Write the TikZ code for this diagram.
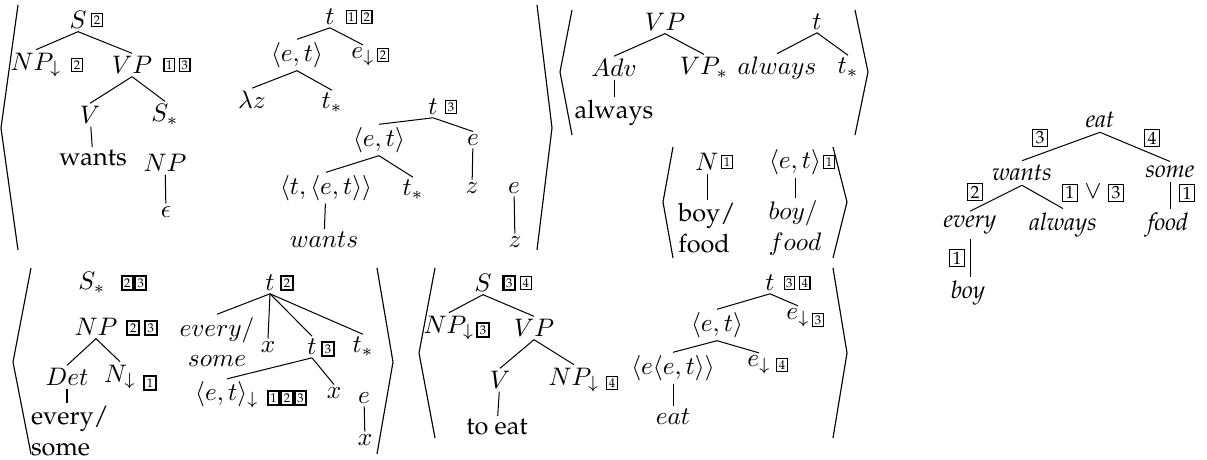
\documentclass[tikz,border=0pt]{standalone}
\usepackage[T1]{fontenc}
\renewcommand{\rmdefault}{ppl}
\usepackage{amsmath}
\usepackage{tikz}
\usetikzlibrary{positioning}
\setlength{\fboxsep}{0.6pt}
\newcommand{\tg}[1]{\fbox{\tiny #1}}
\newcommand{\tgb}[1]{{\setlength{\fboxrule}{0.8pt}\fbox{\tiny #1}}}
\newcommand{\tgd}[1]{{\setlength{\fboxsep}{0.7pt}\fbox{\scriptsize\makebox[4.4pt]{#1}}}}

\begin{document}
\begin{tikzpicture}[
  x=0.395pt, y=-0.395pt,
  every node/.style={inner sep=1pt},
  tags/.style={inner sep=0pt},
  lex/.style={align=left, inner sep=1pt},
  dtree/.style={font=\fontsize{9.6pt}{11pt}\selectfont\itshape, inner sep=1.5pt},
  brack/.style={line width=0.45pt}
]
\useasboundingbox (0,0) rectangle (1207,460);

% wants: syntax tree
\node (S1) at (78,20) {$S$};
\node[tags] (S1t) at (97,20) {\tg{2}};
\node (NP1) at (36,65) {$NP_{\downarrow}$};
\node[tags] (NP1t) at (77,65) {\tg{2}};
\node (VP1) at (132,65) {$VP$};
\node[tags] (VP1t) at (177,65) {\tg{1}\,\tg{3}};
\node (V1) at (90,115) {$V$};
\node (Ss1) at (165,115) {$S_*$};
\node (wants1) at (93,158) {wants};
\node (NP1b) at (165,163) {$NP$};
\node (eps1) at (166,212) {$\epsilon$};
\draw (S1.south) -- (NP1.north);
\draw (S1.south) -- (VP1.north);
\draw (VP1.south) -- (V1.north);
\draw (VP1.south) -- (Ss1.north);
\draw (V1) -- (wants1);
\draw (NP1b) -- (eps1);

% wants: semantic trees
\node (t1) at (330,17) {$t$};
\node[tags] (t1t) at (359,17) {\tg{1}\,\tg{2}};
\node (et1) at (297,55) {$\langle e,t\rangle$};
\node (e1) at (363,57) {$e_{\downarrow}$};
\node[tags] (e1t) at (383,55) {\tg{2}};
\node (lz) at (252,100) {$\lambda z$};
\node (ts1) at (332,103) {$t_*$};
\draw (t1.south) -- (et1.north);
\draw (t1.south) -- (e1.north);
\draw (et1.south) -- (lz.north);
\draw (et1.south) -- (ts1.north);

\node (t3) at (433,107) {$t$};
\node[tags] (t3t) at (451,107) {\tg{3}};
\node (et2) at (379,140) {$\langle e,t\rangle$};
\node (e2) at (473,140) {$e$};
\node (tet) at (326,188) {$\langle t,\langle e,t\rangle\rangle$};
\node (ts2) at (413,190) {$t_*$};
\node (z1) at (472,188) {$z$};
\node (wants2) at (324,240) {$wants$};
\node (e3) at (514,188) {$e$};
\node (z2) at (515,242) {$z$};
\draw (t3.south) -- (et2.north);
\draw (t3.south) -- (e2.north);
\draw (et2.south) -- (tet.north);
\draw (et2.south) -- (ts2.north);
\draw (e2) -- (z1);
\draw (tet) -- (wants2);
\draw (e3) -- (z2);

\draw[brack] (18,5) -- (1,128) -- (18,250);
\draw[brack] (537,5) -- (552,128) -- (537,250);

% always
\node (VP2) at (665,22) {$VP$};
\node (Adv) at (614,68) {$Adv$};
\node (VPs) at (704,68) {$VP_*$};
\node (always1) at (614,113) {always};
\node (t4) at (817,22) {$t$};
\node (always2) at (777,68) {$always$};
\node (ts3) at (848,68) {$t_*$};
\draw (VP2.south) -- (Adv.north);
\draw (VP2.south) -- (VPs.north);
\draw (Adv) -- (always1);
\draw (t4.south) -- (always2.north);
\draw (t4.south) -- (ts3.north);
\draw[brack] (572,10) -- (560,72) -- (572,135);
\draw[brack] (855,10) -- (868,72) -- (855,135);

% boy / food
\node (N3) at (707,162) {$N$};
\node[tags] (N3t) at (727,162) {\tg{1}};
\node[lex] (bf1) at (707,228) {boy/\\food};
\node (et3) at (795,162) {$\langle e,t\rangle$};
\node[tags] (et3t) at (829,162) {\tg{1}};
\node[lex] (bf2) at (795,228) {$boy/$\\$food$};
\draw (N3) -- (N3 |- bf1.north);
\draw (et3) -- (et3 |- bf2.north);
\draw[brack] (673,147) -- (663,202) -- (673,258);
\draw[brack] (833,147) -- (847,202) -- (833,258);

% every / some
\node (Ss4) at (92,283) {$S_*$};
\node[tags] (Ss4t) at (134,283) {\tgb{2}\tgb{3}};
\node (NP4) at (96,327) {$NP$};
\node[tags] (NP4t) at (142,328) {\tgb{2}\,\tgb{3}};
\node (Det) at (67,377) {$Det$};
\node (N4) at (120,377) {$N_{\downarrow}$};
\node[tags] (N4t) at (150,383) {\tgb{1}};
\node[lex] (es1) at (70,431) {every/\\some};
\draw (NP4.south) -- (Det.north);
\draw (NP4.south) -- (N4.north);
\draw (Det) -- (Det |- es1.north);

\node (t5) at (270,283) {$t$};
\node[tags] (t5t) at (287,283) {\tgb{2}};
\node[align=center] (es2) at (217,342) {$every/$\\$some$};
\node (x1) at (268,347) {$x$};
\node (t6) at (312,347) {$t$};
\node[tags] (t6t) at (328,349) {\tgb{3}};
\node (ts4) at (363,347) {$t_*$};
\node (et4) at (227,395) {$\langle e,t\rangle_{\downarrow}$};
\node[tags] (et4t) at (287,398) {\tgb{1}\tgb{2}\tgb{3}};
\node (x2) at (334,393) {$x$};
\node (e4) at (364,398) {$e$};
\node (x3) at (365,440) {$x$};
\draw (t5.south) -- (es2.north);
\draw (t5.south) -- (x1.north);
\draw (t5.south) -- (t6.north);
\draw (t5.south) -- (ts4.north);
\draw (t6.south) -- (et4.north);
\draw (t6.south) -- (x2.north);
\draw (e4) -- (x3);
\draw[brack] (31,268) -- (13,362) -- (31,454);
\draw[brack] (377,268) -- (393,362) -- (377,454);

% to eat
\node (S5) at (483,283) {$S$};
\node[tags] (S5t) at (517,283) {\tgb{3}\,\tg{4}};
\node (NP5) at (449,328) {$NP_{\downarrow}$};
\node[tags] (NP5t) at (483,330) {\tgb{3}};
\node (VP5) at (534,328) {$VP$};
\node (V5) at (500,380) {$V$};
\node (NP5b) at (574,380) {$NP_{\downarrow}$};
\node[tags] (NP5bt) at (612,383) {\tg{4}};
\node (toeat) at (497,427) {to eat};
\draw (S5.south) -- (NP5.north);
\draw (S5.south) -- (VP5.north);
\draw (VP5.south) -- (V5.north);
\draw (VP5.south) -- (NP5b.north);
\draw (V5) -- (toeat);

\node (t7) at (770,283) {$t$};
\node[tags] (t7t) at (797,283) {\tg{3}\,\tg{4}};
\node (et5) at (717,325) {$\langle e,t\rangle$};
\node (e5) at (798,318) {$e_{\downarrow}$};
\node[tags] (e5t) at (818,320) {\tg{3}};
\node (eet) at (673,368) {$\langle e\langle e,t\rangle\rangle$};
\node (e6) at (759,365) {$e_{\downarrow}$};
\node[tags] (e6t) at (782,365) {\tg{4}};
\node (eat5) at (673,417) {$eat$};
\draw (t7.south) -- (et5.north);
\draw (t7.south) -- (e5.north);
\draw (et5.south) -- (eet.north);
\draw (et5.south) -- (e6.north);
\draw (eet) -- (eat5);
\draw[brack] (435,268) -- (419,353) -- (435,438);
\draw[brack] (833,268) -- (847,353) -- (833,438);

% derivation tree
\node[dtree] (d-eat) at (1100,120) {eat};
\node[dtree] (d-wants) at (1022,173) {wants};
\node[dtree] (d-some) at (1170,172) {some};
\node[dtree] (d-every) at (970,225) {every};
\node[dtree] (d-always) at (1063,225) {always};
\node[dtree] (d-food) at (1168,225) {food};
\node[dtree] (d-boy) at (968,293) {boy};
\draw (d-eat.south) -- (d-wants.north);
\draw (d-eat.south) -- (d-some.north);
\draw (d-wants.south) -- (d-every.north);
\draw (d-wants.south) -- (d-always.north);
\draw (d-some) -- (d-some |- d-food.north);
\draw (d-every) -- (d-every |- d-boy.north);
\node[tags] (l-eat-wants) at (1040,138) {\tgd{3}};
\node[tags] (l-eat-some) at (1152,138) {\tgd{4}};
\node[tags] (l-wants-every) at (975,192) {\tgd{2}};
\node[tags] (l-wants-always) at (1093,193) {\tgd{1} $\vee$ \tgd{3}};
\node[tags] (l-some-food) at (1187,193) {\tgd{1}};
\node[tags] (l-every-boy) at (957,258) {\tgd{1}};
\end{tikzpicture}
\end{document}
